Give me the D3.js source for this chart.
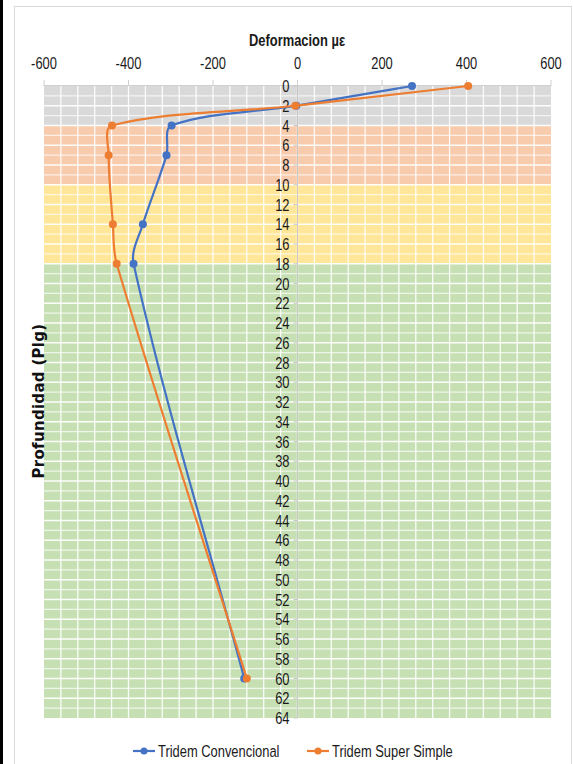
<!DOCTYPE html>
<html><head><meta charset="utf-8">
<script src="https://cdn.jsdelivr.net/npm/d3@7"></script>
<style>
body{margin:0;background:#fff;}
svg{display:block;}
</style></head>
<body>
<svg id="c" width="573" height="764"></svg>
<script>
const depths = [0, 2, 4, 7, 14, 18, 60];
const convencional = [271, -3, -298, -310, -366, -388, -126];
const superSimple = [404, -5, -439, -447, -437, -428, -120];
const seriesNames = ["Tridem Convencional", "Tridem Super Simple"];
const seriesColors = ["#4472C4", "#ED7D31"];
const xTicks = [-600, -400, -200, 0, 200, 400, 600];
const yTicks = d3.range(0, 65, 2);
const bandStarts = [0, 4, 10, 18];
const bandEnds = [4, 10, 18, 64];
const bandColors = ["#d9d9d9", "#f8cbad", "#ffe699", "#c6e0b4"];

const svg = d3.select("#c");
const L = 44, R = 551, T = 86, B = 718;
const x = d3.scaleLinear().domain([-600, 600]).range([L, R]);
const y = d3.scaleLinear().domain([0, 64]).range([T, B]);
const SX = 0.76;
const FONT = "Liberation Sans, Arial, sans-serif";

function narrowText(g, px, py, txt, opts) {
  return g.append("text")
    .attr("transform", `translate(${px},${py}) scale(${SX},1)`)
    .attr("font-family", FONT)
    .attr("font-size", opts.size)
    .attr("font-weight", opts.weight || "normal")
    .attr("text-anchor", opts.anchor || "start")
    .attr("dy", opts.dy || null)
    .attr("fill", opts.fill || "#1a1a1a")
    .text(txt);
}

// Excel-like smoothed line: chord-length weighted Catmull-Rom tangents, as a d3 curve factory
function curveExcelSmooth(context) {
  let pts = [];
  return {
    areaStart() {}, areaEnd() {},
    lineStart() { pts = []; },
    point(px, py) { pts.push([+px, +py]); },
    lineEnd() {
      const n = pts.length;
      if (!n) return;
      context.moveTo(pts[0][0], pts[0][1]);
      const dist = (a, b) => Math.hypot(b[0] - a[0], b[1] - a[1]);
      const arms = pts.map((p, i) => {
        const prev = pts[Math.max(0, i - 1)], next = pts[Math.min(n - 1, i + 1)];
        const tx = next[0] - prev[0], ty = next[1] - prev[1];
        const dIn = i > 0 ? dist(prev, p) : 0;
        const dOut = i < n - 1 ? dist(p, next) : 0;
        const s = dIn + dOut || 1;
        return {tx, ty, fin: dIn / s / 3, fout: dOut / s / 3};
      });
      for (let i = 0; i < n - 1; i++) {
        const p = pts[i], q = pts[i + 1], a = arms[i], b = arms[i + 1];
        context.bezierCurveTo(
          p[0] + a.tx * a.fout, p[1] + a.ty * a.fout,
          q[0] - b.tx * b.fin, q[1] - b.ty * b.fin,
          q[0], q[1]);
      }
    }
  };
}

// frame
svg.append("rect").attr("x",0).attr("y",0).attr("width",3).attr("height",764).attr("fill","#000");
svg.append("rect").attr("x",14.5).attr("y",6.5).attr("width",557).attr("height",770)
  .attr("fill","#fff").attr("stroke","#d9d9d9").attr("stroke-width",1);

// bands
svg.append("g").selectAll("rect").data(bandStarts).join("rect")
  .attr("x", L).attr("width", R - L)
  .attr("y", (d) => y(d)).attr("height", (d, i) => y(bandEnds[i]) - y(d))
  .attr("fill", (d, i) => bandColors[i]);

// grid
const grid = svg.append("g");
grid.selectAll("line.h").data(d3.range(1, 64, 1)).join("line")
  .attr("x1", L).attr("x2", R).attr("y1", d => y(d)).attr("y2", d => y(d))
  .attr("stroke", "#fff").attr("stroke-opacity", d => d % 2 === 0 ? 0.95 : 0.7).attr("stroke-width", 1.3);
grid.selectAll("line.v").data(d3.range(-560, 600, 40)).join("line")
  .attr("y1", T).attr("y2", B).attr("x1", d => x(d)).attr("x2", d => x(d))
  .attr("stroke", "#fff").attr("stroke-opacity", 0.9).attr("stroke-width", 1.3);

// top axis
const xAxis = svg.append("g");
xAxis.append("line").attr("x1", L).attr("x2", R).attr("y1", T - 0.5).attr("y2", T - 0.5).attr("stroke", "#d0d0d0");
xAxis.selectAll("line.t").data(xTicks).join("line")
  .attr("x1", d => x(d)).attr("x2", d => x(d)).attr("y1", T - 6).attr("y2", T)
  .attr("stroke", "#d0d0d0");
xTicks.forEach(d => narrowText(xAxis, x(d), 69, d, {size: 17, anchor: "middle"}));

// y axis at x=0
const yAxis = svg.append("g");
yAxis.append("line").attr("x1", x(0)).attr("x2", x(0)).attr("y1", T).attr("y2", B).attr("stroke", "#c8c8c8");
yAxis.selectAll("line.t").data(yTicks).join("line")
  .attr("x1", x(0) - 4).attr("x2", x(0)).attr("y1", d => y(d)).attr("y2", d => y(d))
  .attr("stroke", "#c8c8c8");
yTicks.forEach(d => narrowText(yAxis, x(0) - 8, y(d), d, {size: 17, anchor: "end", dy: "0.36em"}));

// titles
narrowText(svg, 297, 46, "Deformacion µε", {size: 17, weight: "bold", anchor: "middle"});
svg.append("text").attr("transform", "translate(44,401) rotate(-90)").attr("text-anchor", "middle")
  .attr("font-family", "DejaVu Sans, sans-serif").attr("font-size", 15).attr("font-weight", "bold")
  .attr("letter-spacing", 0.3)
  .attr("fill", "#111").text("Profundidad (Plg)");

// series
const all = [convencional, superSimple];
const line = d3.line().x(d => x(d[0])).y(d => y(d[1])).curve(curveExcelSmooth);
all.forEach((vals, i) => {
  const pts = vals.map((v, j) => [v, depths[j]]);
  const g = svg.append("g");
  g.append("path").attr("d", line(pts)).attr("fill", "none")
    .attr("stroke", seriesColors[i]).attr("stroke-width", 2.2);
  g.selectAll("circle").data(pts).join("circle")
    .attr("cx", d => x(d[0])).attr("cy", d => y(d[1])).attr("r", 4)
    .attr("fill", seriesColors[i]);
});

// legend
const legX = [133, 307];
seriesNames.forEach((n, i) => {
  const g = svg.append("g").attr("transform", `translate(${legX[i]},751)`);
  g.append("line").attr("x1", 0).attr("x2", 22).attr("stroke", seriesColors[i]).attr("stroke-width", 2.2);
  g.append("circle").attr("cx", 11).attr("r", 3.5).attr("fill", seriesColors[i]);
  narrowText(g, 25, 0, n, {size: 17, dy: "0.36em"});
});
</script>
</body></html>
